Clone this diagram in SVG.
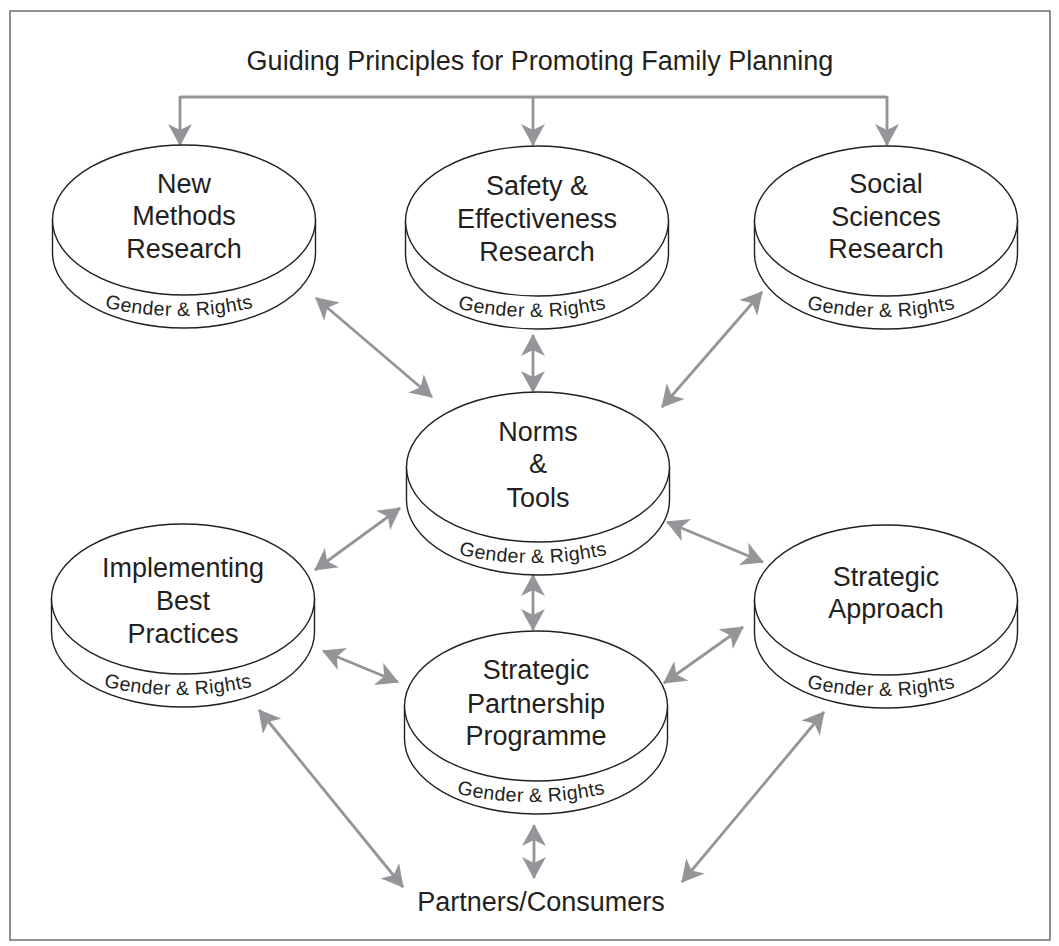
<svg xmlns="http://www.w3.org/2000/svg" xmlns:xlink="http://www.w3.org/1999/xlink" width="1059" height="946" viewBox="0 0 1059 946">
<style>
.frame{fill:#ffffff;stroke:#6d6e71;stroke-width:1.5}
.disk{fill:#ffffff;stroke:#231f20;stroke-width:1.4}
.lbl{font-family:"Liberation Sans",Arial,sans-serif;font-size:27px;fill:#231f20;text-anchor:middle}
.gr{font-family:"Liberation Sans",Arial,sans-serif;font-size:19.5px;letter-spacing:0.4px;fill:#231f20;text-anchor:middle}
.big{font-family:"Liberation Sans",Arial,sans-serif;font-size:27px;fill:#231f20;text-anchor:middle}
.conn{fill:none;stroke:#939598;stroke-width:2.8}
.dbl{marker-start:url(#ah);marker-end:url(#ah)}
.one{marker-end:url(#ah)}
</style>
<defs>
<marker id="ah" viewBox="0 0 22 24" refX="21" refY="12" markerWidth="22" markerHeight="24" markerUnits="userSpaceOnUse" orient="auto-start-reverse">
<path d="M22,12 L0,0 L6,12 L0,24 Z" fill="#939598"/>
</marker>
<g id="disk">
<path class="disk" d="M-131.5,0 L-131.5,33 A131.5 75 0 0 0 131.5,33 L131.5,0 Z"/>
<ellipse class="disk" cx="0" cy="0" rx="131.5" ry="75"/>
</g>
<path id="grArc" d="M-165,21 A160 75 0 0 0 155,21" fill="none"/>
</defs>
<rect class="frame" x="10" y="11" width="1040" height="929"/>
<text class="big" x="540" y="70">Guiding Principles for Promoting Family Planning</text>
<g id="connectors">
<path class="conn" d="M180,97 L887,97"/>
<path class="conn one" d="M180,96 L180,145"/>
<path class="conn one" d="M533,97 L533,145"/>
<path class="conn one" d="M887,96 L887,145"/>
<path class="conn dbl" d="M316,298 L432,397"/>
<path class="conn dbl" d="M533,335 L533,392"/>
<path class="conn dbl" d="M762,292 L662,407"/>
<path class="conn dbl" d="M315,570 L400,508"/>
<path class="conn dbl" d="M667,522 L763,562"/>
<path class="conn dbl" d="M533,575 L533,630"/>
<path class="conn dbl" d="M323,651 L398,682"/>
<path class="conn dbl" d="M664,683 L743,627"/>
<path class="conn dbl" d="M259,710 L403,887"/>
<path class="conn dbl" d="M824,712 L682,882"/>
<path class="conn dbl" d="M534,825 L534,878"/>
</g>
<g id="n-new-methods" transform="translate(184,220)">
<use xlink:href="#disk"/>
<text class="lbl"><tspan x="0" y="-27">New</tspan><tspan x="0" y="5">Methods</tspan><tspan x="0" y="38">Research</tspan></text>
<text class="gr"><textPath xlink:href="#grArc" startOffset="50%">Gender &amp; Rights</textPath></text>
</g>
<g id="n-safety" transform="translate(537,221)">
<use xlink:href="#disk"/>
<text class="lbl"><tspan x="0" y="-26">Safety &amp;</tspan><tspan x="0" y="7">Effectiveness</tspan><tspan x="0" y="40">Research</tspan></text>
<text class="gr"><textPath xlink:href="#grArc" startOffset="50%">Gender &amp; Rights</textPath></text>
</g>
<g id="n-social" transform="translate(886,221)">
<use xlink:href="#disk"/>
<text class="lbl"><tspan x="0" y="-28">Social</tspan><tspan x="0" y="5">Sciences</tspan><tspan x="0" y="37">Research</tspan></text>
<text class="gr"><textPath xlink:href="#grArc" startOffset="50%">Gender &amp; Rights</textPath></text>
</g>
<g id="n-norms" transform="translate(538,467)">
<use xlink:href="#disk"/>
<text class="lbl"><tspan x="0" y="-26">Norms</tspan><tspan x="0" y="6">&amp;</tspan><tspan x="0" y="40">Tools</tspan></text>
<text class="gr"><textPath xlink:href="#grArc" startOffset="50%">Gender &amp; Rights</textPath></text>
</g>
<g id="n-implementing" transform="translate(183,599)">
<use xlink:href="#disk"/>
<text class="lbl"><tspan x="0" y="-22">Implementing</tspan><tspan x="0" y="11">Best</tspan><tspan x="0" y="44">Practices</tspan></text>
<text class="gr"><textPath xlink:href="#grArc" startOffset="50%">Gender &amp; Rights</textPath></text>
</g>
<g id="n-strategic-approach" transform="translate(886,600)">
<use xlink:href="#disk"/>
<text class="lbl"><tspan x="0" y="-14">Strategic</tspan><tspan x="0" y="18">Approach</tspan></text>
<text class="gr"><textPath xlink:href="#grArc" startOffset="50%">Gender &amp; Rights</textPath></text>
</g>
<g id="n-partnership" transform="translate(536,706)">
<use xlink:href="#disk"/>
<text class="lbl"><tspan x="0" y="-27">Strategic</tspan><tspan x="0" y="7">Partnership</tspan><tspan x="0" y="39">Programme</tspan></text>
<text class="gr"><textPath xlink:href="#grArc" startOffset="50%">Gender &amp; Rights</textPath></text>
</g>
<text id="n-partners" class="big" x="541" y="911">Partners/Consumers</text>
</svg>
